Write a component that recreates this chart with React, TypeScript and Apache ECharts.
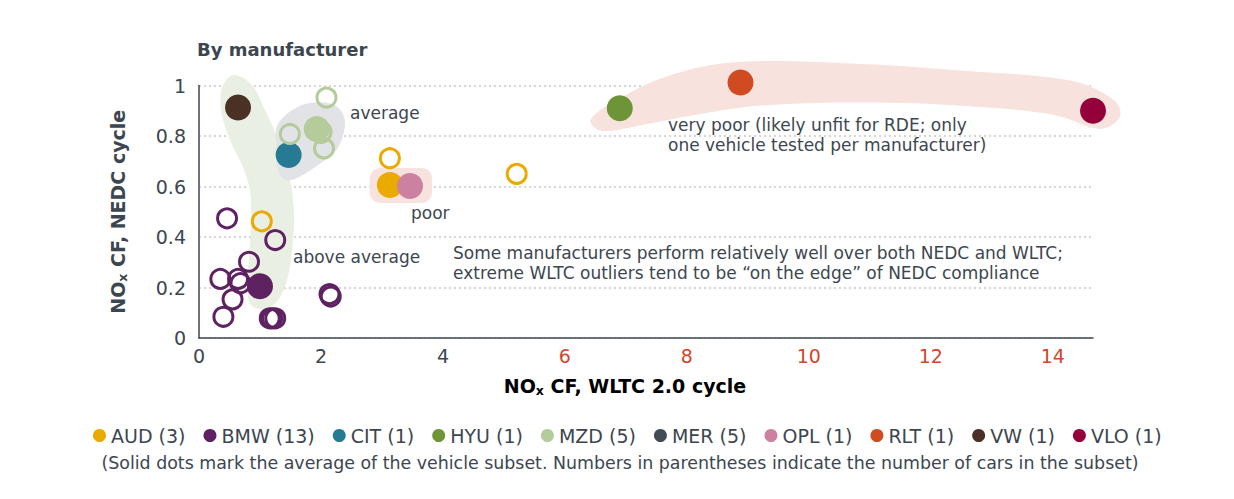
import React, { useEffect, useRef } from "react";
import * as echarts from "echarts";

// ---------- data ----------
const manufacturers = ["AUD", "BMW", "CIT", "HYU", "MZD", "MER", "OPL", "RLT", "VW", "VLO"];
const carCounts = [3, 13, 1, 1, 5, 5, 1, 1, 1, 1];

// individual vehicles (hollow circles): [WLTC CF, NEDC CF]
const audCars = [[3.13, 0.712], [1.03, 0.462], [5.21, 0.65]];
const bmwCars = [
  [0.46, 0.474], [1.25, 0.388], [0.82, 0.302], [0.35, 0.234], [0.64, 0.234],
  [0.68, 0.217], [0.55, 0.153], [0.4, 0.084], [1.16, 0.078], [1.25, 0.078],
  [1.2, 0.078], [2.14, 0.174], [2.16, 0.164],
];
const citCars: number[][] = [];
const hyuCars: number[][] = [];
const mzdCars = [[2.09, 0.952], [1.49, 0.808], [2.05, 0.751], [2.01, 0.817], [2.0, 0.812]];
const merCars: number[][] = [];
const oplCars: number[][] = [];
const rltCars: number[][] = [];
const vwCars: number[][] = [];
const vloCars: number[][] = [];

// subset averages (solid dots)
const audAvg = [3.13, 0.606];
const bmwAvg = [1.0, 0.205];
const citAvg = [1.47, 0.725];
const hyuAvg = [6.9, 0.91];
const mzdAvg = [1.93, 0.828];
const merAvg: number[] | null = null;
const oplAvg = [3.46, 0.602];
const rltAvg = [8.88, 1.012];
const vwAvg = [0.64, 0.913];
const vloAvg = [14.66, 0.9];

const carsByMaker = [audCars, bmwCars, citCars, hyuCars, mzdCars, merCars, oplCars, rltCars, vwCars, vloCars];
const avgByMaker = [audAvg, bmwAvg, citAvg, hyuAvg, mzdAvg, merAvg, oplAvg, rltAvg, vwAvg, vloAvg];

// highlight regions (data coordinates)
const aboveAverageRegion = [
  [0.607, 1.042], [0.869, 1.002], [1.066, 0.911], [1.295, 0.784], [1.492, 0.626],
  [1.557, 0.487], [1.525, 0.349], [1.443, 0.23], [1.295, 0.15], [1.082, 0.115],
  [0.869, 0.127], [0.803, 0.17], [0.82, 0.309], [0.852, 0.467], [0.836, 0.586],
  [0.705, 0.685], [0.508, 0.784], [0.377, 0.883], [0.361, 0.974], [0.459, 1.026],
];
const averageRegion = [
  [1.28, 0.84], [1.51, 0.9], [1.8, 0.93], [2.2, 0.925], [2.38, 0.875],
  [2.36, 0.8], [2.22, 0.735], [1.98, 0.69], [1.66, 0.64], [1.44, 0.625],
  [1.3, 0.66], [1.27, 0.76],
];
const veryPoorRegion = [
  [6.42, 0.863], [6.82, 0.939], [7.69, 1.038], [8.84, 1.093], [10.87, 1.085],
  [12.59, 1.057], [14.33, 1.018], [15.02, 0.939], [15.1, 0.875], [14.79, 0.828],
  [14.03, 0.883], [12.59, 0.919], [10.87, 0.933], [9.13, 0.919], [7.98, 0.877],
  [7.11, 0.836], [6.59, 0.821],
];
const poorRegionBox = [[2.8, 0.535], [3.82, 0.673]]; // [min corner, max corner]

const xTicks = [0, 2, 4, 6, 8, 10, 12, 14];

// ---------- styles ----------
const makerColors = [
  "#eaaa00", "#5e2263", "#267a93", "#6d9537", "#b5cb9b",
  "#434c55", "#cb819f", "#d04b22", "#4b3025", "#95003a",
];
const TXT = "#3c4650";
const FONT = "'DejaVu Sans', sans-serif";

export default function App() {
  const ref = useRef<HTMLDivElement>(null);

  useEffect(() => {
    if (!ref.current) return;
    const chart = echarts.init(ref.current, null, { renderer: "svg" });

    const polyRegions = [
      { pts: aboveAverageRegion, fill: "#e9efe2" },
      { pts: averageRegion, fill: "#e2e3e6" },
      { pts: veryPoorRegion, fill: "#f7e2de" },
    ];

    const regionSeries: any = {
      type: "custom",
      silent: true,
      z: 1,
      clip: false,
      data: [[0, 0], [1, 0], [2, 0], [3, 0]],
      renderItem: (params: any, api: any) => {
        const i = params.dataIndex;
        if (i < 3) {
          const r = polyRegions[i];
          return {
            type: "polygon",
            shape: { points: r.pts.map((p) => api.coord(p)), smooth: 0.35 },
            style: { fill: r.fill },
          };
        }
        const a = api.coord(poorRegionBox[0]);
        const b = api.coord(poorRegionBox[1]);
        return {
          type: "rect",
          shape: { x: a[0], y: b[1], width: b[0] - a[0], height: a[1] - b[1], r: 10 },
          style: { fill: "#f7e2de" },
        };
      },
    };

    const scatterSeries = manufacturers.map((m, i) => {
      const c = makerColors[i];
      const data: any[] = carsByMaker[i].map((p) => ({
        value: p,
        symbolSize: 19,
        itemStyle: { color: "rgba(255,255,255,0)", borderColor: c, borderWidth: 3 },
      }));
      const avg = avgByMaker[i];
      if (avg) data.push({ value: avg, symbolSize: 26, itemStyle: { color: c } });
      return {
        name: `${m} (${carCounts[i]})`,
        type: "scatter",
        z: 3,
        clip: false,
        itemStyle: { color: c, opacity: 1 },
        emphasis: { disabled: true },
        data,
      };
    });

    const annot = (text: string, x: number, y: number, size = 17) => ({
      type: "text",
      x,
      y,
      silent: true,
      z: 10,
      style: {
        text,
        fill: TXT,
        font: `normal ${size}px ${FONT}`,
        verticalAlign: "middle",
      },
    });

    const richName = {
      a: { fontSize: 19, fontWeight: "bold", color: TXT, fontFamily: FONT, lineHeight: 22 },
      s: { fontSize: 12.5, fontWeight: "bold", color: TXT, fontFamily: FONT, lineHeight: 22, verticalAlign: "bottom", padding: [10, 0, 0, 0] },
    };

    chart.setOption({
      animation: false,
      backgroundColor: "#ffffff",
      textStyle: { fontFamily: FONT },
      title: {
        text: "By manufacturer",
        left: 192,
        top: 35,
        textStyle: { fontSize: 18, fontWeight: "bold", color: TXT, fontFamily: FONT },
      },
      legend: {
        left: 88,
        top: 421,
        icon: "circle",
        itemWidth: 13,
        itemHeight: 13,
        itemGap: 18,
        selectedMode: false,
        textStyle: { fontSize: 19, color: TXT, fontFamily: FONT },
        data: manufacturers.map((m, i) => `${m} (${carCounts[i]})`),
      },
      grid: {
        left: 199,
        right: 141,
        top: 85.5,
        bottom: 161,
        containLabel: false,
        outerBoundsMode: "none",
      },
      xAxis: {
        type: "value",
        min: 0,
        max: 14.66,
        interval: 2,
        axisLine: { show: true, lineStyle: { color: TXT, width: 1.5 } },
        axisTick: { show: false },
        splitLine: { show: false },
        axisLabel: {
          fontSize: 19,
          margin: 8,
          fontFamily: FONT,
          formatter: (v: number) => (xTicks.includes(v) ? String(v) : ""),
          color: (v: any) => (Number(v) >= 6 ? "#d2472a" : TXT),
        },
      },
      yAxis: {
        type: "value",
        min: 0,
        max: 1,
        interval: 0.2,
        name: "{a|NO}{s|x}{a| CF, NEDC cycle}",
        nameLocation: "middle",
        nameGap: 70,
        nameTextStyle: { rich: richName },
        axisLine: { show: true, lineStyle: { color: TXT, width: 1.5 } },
        axisTick: { show: false },
        axisLabel: { fontSize: 19, margin: 13, color: TXT, fontFamily: FONT },
        splitLine: { show: true, lineStyle: { color: "#c9c9c9", width: 1.5, type: [2, 3] } },
      },
      graphic: [
        annot("average", 350, 113),
        annot("poor", 411, 213),
        annot("above average", 293, 257),
        annot("very poor (likely unfit for RDE; only", 668, 125),
        annot("one vehicle tested per manufacturer)", 668, 145),
        annot("Some manufacturers perform relatively well over both NEDC and WLTC;", 453, 253),
        annot("extreme WLTC outliers tend to be \u201con the edge\u201d of NEDC compliance", 453, 273),
        {
          type: "text",
          x: 625,
          y: 386,
          silent: true,
          style: {
            text: "{a|NO}{s|x}{a| CF, WLTC 2.0 cycle}",
            rich: richName,
            align: "center",
            verticalAlign: "middle",
          },
        },
        {
          type: "text",
          x: 620,
          y: 463,
          silent: true,
          style: {
            text: "(Solid dots mark the average of the vehicle subset. Numbers in parentheses indicate the number of cars in the subset)",
            fill: TXT,
            font: `normal 17.4px ${FONT}`,
            align: "center",
            verticalAlign: "middle",
          },
        },
      ],
      series: [regionSeries, ...scatterSeries],
    } as any);

    return () => chart.dispose();
  }, []);

  return (
    <div
      ref={ref}
      style={{ position: "fixed", left: 0, top: 0, width: 1234, height: 499, background: "#fff" }}
    />
  );
}
